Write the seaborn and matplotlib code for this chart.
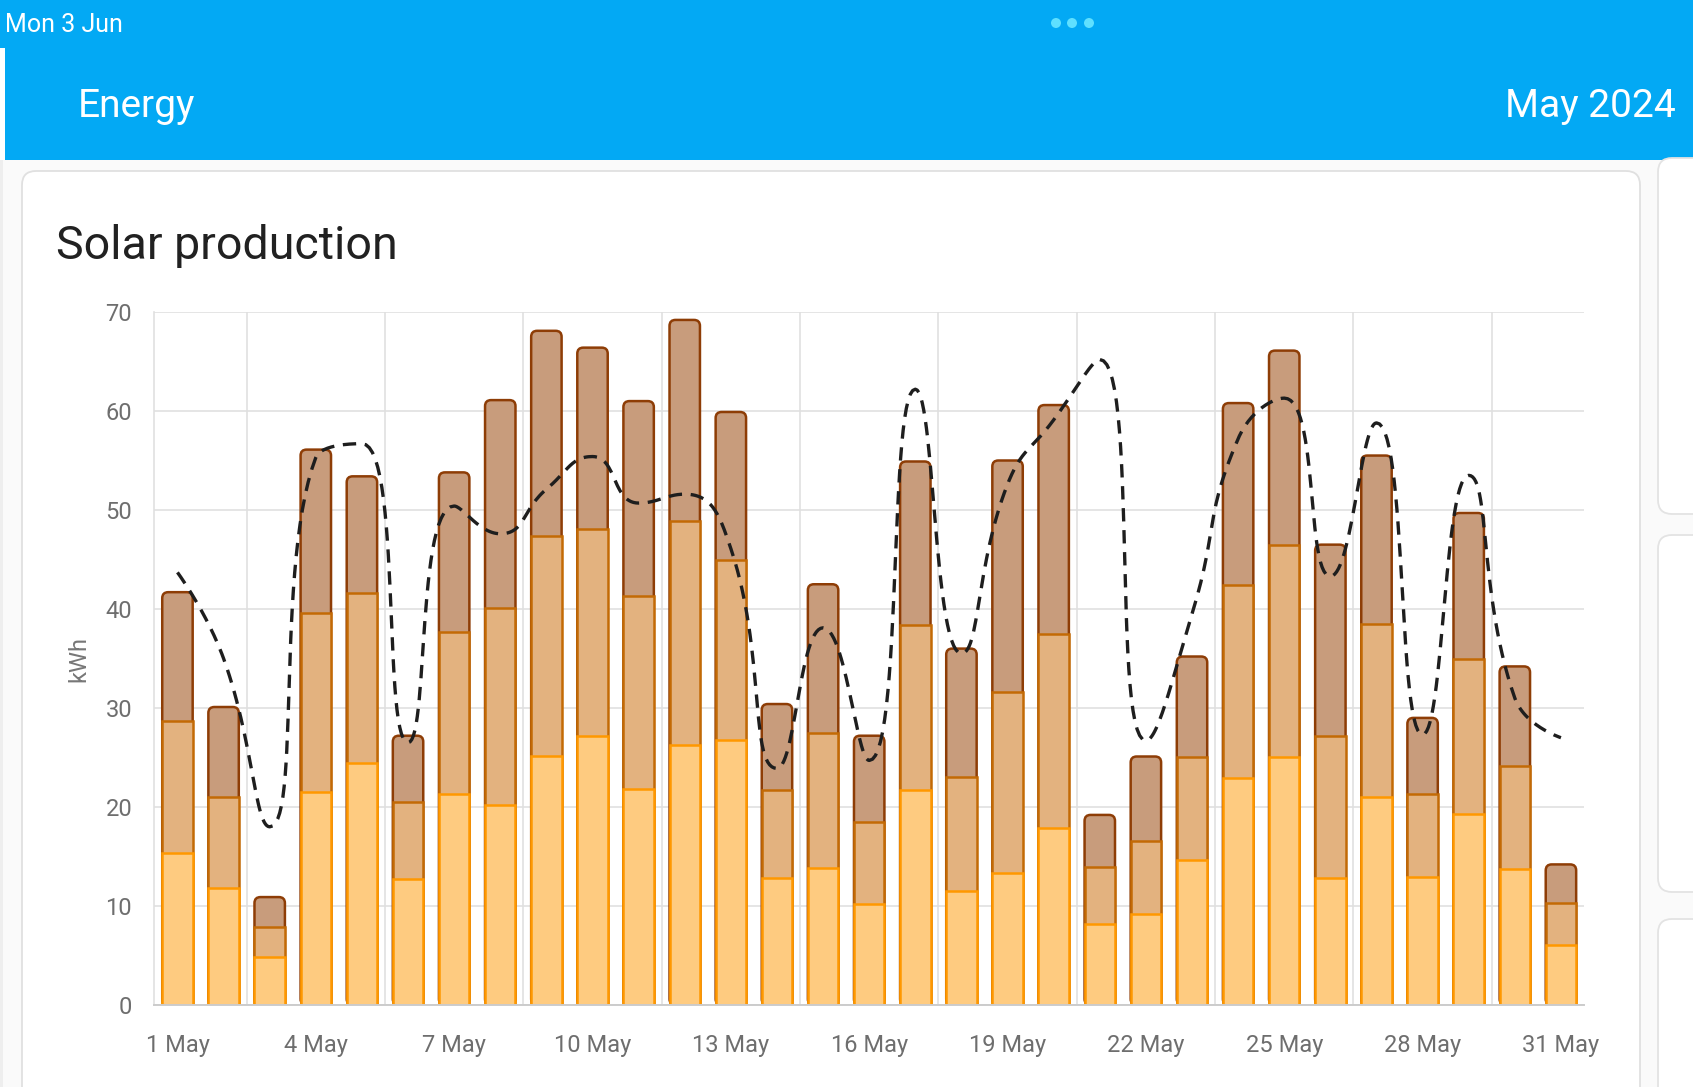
import numpy as np
import pandas as pd
import matplotlib
matplotlib.use("Agg")
import matplotlib.pyplot as plt
import seaborn as sns
from matplotlib.patches import FancyBboxPatch, Rectangle, Circle

# ---------------- data ----------------
days = list(range(1, 32))
day_labels = [f"{d} May" for d in days]
source_a = [15.4, 11.8, 4.8, 21.5, 24.4, 12.7, 21.3, 20.2, 25.2, 27.2, 21.8, 26.3, 26.8, 12.8, 13.8, 10.2,
            21.7, 11.5, 13.3, 17.9, 8.2, 9.2, 14.6, 22.9, 25.1, 12.8, 21.0, 12.9, 19.3, 13.7, 6.1]
source_b = [13.3, 9.2, 3.1, 18.1, 17.2, 7.8, 16.4, 19.9, 22.2, 20.9, 19.5, 22.6, 18.2, 8.9, 13.7, 8.3,
            16.7, 11.5, 18.3, 19.6, 5.7, 7.4, 10.5, 19.5, 21.4, 14.4, 17.5, 8.4, 15.7, 10.4, 4.2]
source_c = [13.0, 9.1, 3.0, 16.5, 11.8, 6.7, 16.1, 21.0, 20.7, 18.3, 19.7, 20.3, 14.9, 8.7, 15.0, 8.7,
            16.5, 13.0, 23.4, 23.1, 5.3, 8.5, 10.1, 18.4, 19.6, 19.3, 17.0, 7.7, 14.7, 10.1, 3.9]
forecast = [43.7, 35.0, 18.0, 55.3, 56.7, 26.5, 50.4, 47.6, 52.1, 55.4, 50.7, 51.6, 46.1, 23.9, 38.1, 24.7,
            62.2, 35.5, 52.6, 59.1, 65.2, 26.7, 39.5, 57.2, 61.3, 43.3, 58.8, 27.3, 53.5, 31.0, 27.0]
y_ticks = [0, 10, 20, 30, 40, 50, 60, 70]
x_tick_days = [1, 4, 7, 10, 13, 16, 19, 22, 25, 28, 31]

# ---------------- style ----------------
sns.set_theme(style="white")
plt.rcParams['font.family'] = ['Roboto', 'DejaVu Sans']

W, H = 1693, 1087
fig = plt.figure(figsize=(W / 100, H / 100), dpi=100, facecolor='#fafafa')

# page decoration (pixel coordinates)
bg = fig.add_axes([0, 0, 1, 1], zorder=0)
bg.set_xlim(0, W)
bg.set_ylim(H, 0)
bg.axis('off')
bg.add_patch(Rectangle((0, 0), W, 160, color='#03a9f4', lw=0))
bg.add_patch(Rectangle((0, 48), 5, 112, color='#ffffff', lw=0))
bg.add_patch(Rectangle((0, 160), 3, H - 160, color='#eeeeee', lw=0))
bg.add_patch(FancyBboxPatch((22, 171), 1618, 980, boxstyle="round,pad=0,rounding_size=14",
                            fc='white', ec='#e0e0e0', lw=1.3))
for (y0, y1) in [(158, 514), (535, 892), (919, 1300)]:
    bg.add_patch(FancyBboxPatch((1658, y0), 80, y1 - y0, boxstyle="round,pad=0,rounding_size=14",
                                fc='white', ec='#e3e3e3', lw=1.3))
for cx in (1056, 1072, 1089):
    bg.add_patch(Circle((cx, 23), 5, color='#5fe0ff', lw=0))
bg.text(5, 32, "Mon 3 Jun", color='white', fontsize=18, va='baseline', ha='left')
bg.text(78, 117, "Energy", color='white', fontsize=28, va='baseline', ha='left')
bg.text(1676, 117, "May 2024", color='white', fontsize=28, va='baseline', ha='right')
bg.text(56, 259, "Solar production", color='#212121', fontsize=33.5, va='baseline', ha='left')

# ---------------- chart ----------------
ax = fig.add_axes([154.4 / W, (H - 1005) / H, (1584 - 154.4) / W, (1005 - 312) / H], zorder=1)
ax.set_facecolor('none')

df = pd.DataFrame({'day': day_labels, 'a': source_a, 'b': source_b, 'c': source_c})
df['ab'] = df['a'] + df['b']
df['abc'] = df['ab'] + df['c']

EDGE_LW = 1.8
layers = [('abc', '#c89c7c', '#8e3d06'),
          ('ab', '#e3b27f', '#c36a05'),
          ('a', '#fecb80', '#ff9800')]
for col, fc, ec in layers:
    sns.barplot(data=df, x='day', y=col, order=day_labels, color=fc, saturation=1,
                edgecolor=ec, linewidth=EDGE_LW, width=0.66, errorbar=None, ax=ax)

ax.set_xlim(-0.5, len(days) - 0.5)
ax.set_ylim(0, 70)

# rounded tops for the topmost layer
px_x = (1584 - 154.4) / len(days)      # pixels per x unit
px_y = (1005 - 312) / 70.0             # pixels per y unit
asp = px_x / px_y
r = 6.0 / px_x
for rect in list(ax.containers[0]):
    x0, y0 = rect.get_x(), rect.get_y()
    w, h = rect.get_width(), rect.get_height()
    fb = FancyBboxPatch((x0, y0), w, h, boxstyle=f"round,pad=0,rounding_size={r}",
                        mutation_aspect=asp, fc=rect.get_facecolor(), ec=rect.get_edgecolor(),
                        lw=EDGE_LW, zorder=0.8)
    rect.set_visible(False)
    ax.add_patch(fb)

# smooth (bezier) forecast curve, echarts-like
def smooth_curve(xv, yv, smooth=0.5, n=30):
    P = np.column_stack([np.asarray(xv, float) * px_x, np.asarray(yv, float) * px_y])
    N = len(P)
    cin = P.copy()
    cout = P.copy()
    for i in range(1, N - 1):
        p, prv, nxt = P[i], P[i - 1], P[i + 1]
        v = nxt - prv
        d0 = np.linalg.norm(p - prv)
        d1 = np.linalg.norm(nxt - p)
        ratio = d1 / (d0 + d1)
        ci = p - v * smooth * (1 - ratio)
        co = p + v * smooth * ratio
        co_c = np.clip(co, np.minimum(nxt, p), np.maximum(nxt, p))
        if not np.allclose(co_c, co):
            co = co_c
            ci = p - (co - p) * d0 / d1
        ci_c = np.clip(ci, np.minimum(prv, p), np.maximum(prv, p))
        if not np.allclose(ci_c, ci):
            ci = ci_c
            co = p - (ci - p) * d1 / d0
        cin[i] = ci
        cout[i] = co
    t = np.linspace(0, 1, n)[:, None]
    segs = []
    for i in range(N - 1):
        b = ((1 - t) ** 3) * P[i] + 3 * ((1 - t) ** 2) * t * cout[i] + 3 * (1 - t) * t ** 2 * cin[i + 1] + t ** 3 * P[i + 1]
        segs.append(b if i == 0 else b[1:])
    B = np.vstack(segs)
    return B[:, 0] / px_x, B[:, 1] / px_y

cx, cy = smooth_curve(np.arange(len(days)), forecast)
sns.lineplot(x=cx, y=cy, sort=False, estimator=None, ax=ax, color='#1e1e1e', linewidth=2.4)
ax.lines[-1].set_linestyle((0, (4.0, 2.6)))
ax.lines[-1].set_zorder(3)

# axes styling
ax.set_xticks([d - 1 for d in x_tick_days])
ax.set_xticklabels([f"{d} May" for d in x_tick_days])
ax.set_xticks([i * 3 + 1.5 for i in range(10)], minor=True)
ax.set_yticks(y_ticks)
ax.set_yticklabels([str(v) for v in y_ticks])
ax.set_axisbelow(True)
ax.yaxis.grid(True, color='#e0e0e0', lw=1.2)
ax.xaxis.grid(True, which='minor', color='#e0e0e0', lw=1.2)
ax.xaxis.grid(False, which='major')
for s in ('top', 'right'):
    ax.spines[s].set_visible(False)
ax.spines['left'].set_color('#e0e0e0')
ax.spines['left'].set_linewidth(1.2)
ax.spines['bottom'].set_color('#cccccc')
ax.spines['bottom'].set_linewidth(1.4)
ax.tick_params(axis='x', which='major', length=0, pad=21, labelsize=17, labelcolor='#6e6e6e')
ax.tick_params(axis='x', which='minor', length=10, width=1.2, color='#cccccc', direction='out')
ax.tick_params(axis='y', length=0, pad=16, labelsize=17, labelcolor='#6e6e6e')
ax.set_xlabel('')
ax.set_ylabel('kWh', fontsize=17, color='#777777')
ax.yaxis.set_label_coords(-0.045, 0.5)

fig.savefig('out.png', dpi=100, facecolor=fig.get_facecolor())
